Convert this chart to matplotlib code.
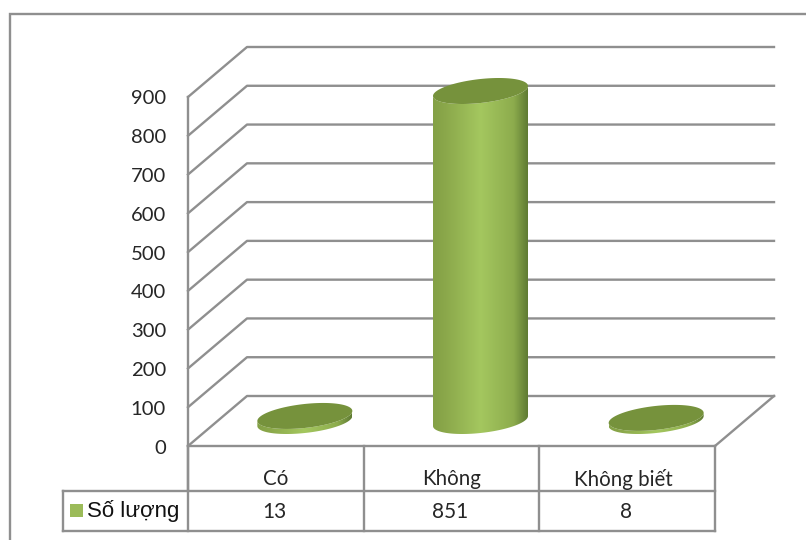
import numpy as np
import matplotlib
matplotlib.use("Agg")
import matplotlib.pyplot as plt
from matplotlib.colors import LinearSegmentedColormap
from matplotlib.patches import Polygon, Rectangle

categories = ["Có", "Không", "Không biết"]
values = [13, 851, 8]
y_ticks = [0, 100, 200, 300, 400, 500, 600, 700, 800, 900]
series_name = "Số lượng"

LINE = "#8f8f8f"
TOP = "#76923c"
SWATCH = "#9bbb59"
TEXT = "#262626"
FONT = "Lato"
body_cmap = LinearSegmentedColormap.from_list(
    "cyl", [(0, "#84a146"), (0.12, "#8aa74a"), (0.5, "#a4c75f"), (0.85, "#8dac4d"), (1, "#5f7b33")])

# chart geometry in pixels
left, right = 188, 715
floor_y = 446
dx, dy = 59, -50
px_per_unit = 349 / 900
col_w = (right - left) / 3
table_mid, table_bot = 491, 531
radius = 47.5
minor_r = 12
shear = -5


def y_front(v):
    return floor_y - v * px_per_unit


def rim(cx, cy, t):
    return cx + radius * np.cos(t), cy + minor_r * np.sin(t) + shear * np.cos(t)


fig = plt.figure(figsize=(8.06, 5.40), dpi=100)
ax = fig.add_axes([0, 0, 1, 1])
ax.set_xlim(0, 806)
ax.set_ylim(540, 0)
ax.axis("off")

lw = 1.7
# outer chart frame
ax.plot([10, 10, 806], [540, 14, 14], color=LINE, lw=lw, solid_joinstyle="miter")

# gridlines with the side wall diagonals
for t in y_ticks:
    y = y_front(t)
    ax.plot([left, left + dx, right + dx], [y, y + dy, y + dy], color=LINE, lw=lw)
    ax.text(166, y + 2, str(t), ha="right", va="center", fontsize=14.6, color=TEXT, family=FONT)
ax.plot([left, left], [y_front(900), table_mid], color=LINE, lw=lw)
ax.plot([right, right + dx], [floor_y, floor_y + dy], color=LINE, lw=lw)

# table under the floor
ax.plot([left, right], [floor_y, floor_y], color=LINE, lw=lw)
ax.plot([63, right], [table_mid, table_mid], color=LINE, lw=lw)
ax.plot([63, right], [table_bot, table_bot], color=LINE, lw=lw)
ax.plot([63, 63], [table_mid, table_bot], color=LINE, lw=lw)
for i in range(4):
    ax.plot([left + i * col_w] * 2, [floor_y, table_bot], color=LINE, lw=lw)
ax.add_patch(Rectangle((70, 504), 13, 13, color=SWATCH, lw=0))
ax.text(87, 511, series_name, ha="left", va="center", fontsize=16, color="#111111", family="Liberation Sans")

# cylinders
t_all = np.linspace(0, 2 * np.pi, 121)
for i, (cat, val) in enumerate(zip(categories, values)):
    cx = left + (i + 0.5) * col_w + dx / 2 - 0.5
    base_y = floor_y + dy / 2
    top_y = base_y - val * px_per_unit

    # side of the cylinder, shaded left to right
    xb, yb = rim(cx, base_y, np.linspace(0, np.pi, 60))
    xt, yt = rim(cx, top_y, np.linspace(np.pi, 0, 60))
    side = Polygon(np.column_stack([np.r_[xb, xt], np.r_[yb, yt]]), closed=True,
                   transform=ax.transData, fc="none", ec="none")
    ax.add_patch(side)
    img = ax.imshow(np.linspace(0, 1, 256)[None, :], cmap=body_cmap, aspect="auto",
                    extent=[cx - radius, cx + radius, base_y + 20, top_y - 20], zorder=3)
    img.set_clip_path(side)

    xr, yr = rim(cx, top_y, t_all)
    ax.fill(xr, yr, color=TOP, lw=0, zorder=4)

    label_x = left + (i + 0.5) * col_w - (4 if i == 2 else 0)
    ax.text(label_x, 479, cat, ha="center", va="center", fontsize=14.8, color=TEXT, family=FONT)
    ax.text(left + (i + 0.5) * col_w - 1, 512, str(val), ha="center", va="center", fontsize=15, color=TEXT, family=FONT)

ax.set_xlim(0, 806)
ax.set_ylim(540, 0)
fig.savefig("out.png", dpi=100)
